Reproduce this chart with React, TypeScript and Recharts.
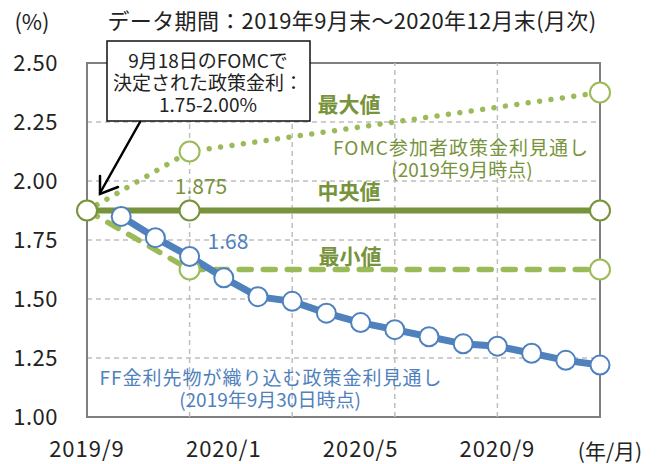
import { ComposedChart, Line, XAxis, YAxis, CartesianGrid, ReferenceLine, ReferenceArea } from "recharts"

const months = [
  "2019/9", "2019/10", "2019/11", "2019/12", "2020/1", "2020/2", "2020/3", "2020/4",
  "2020/5", "2020/6", "2020/7", "2020/8", "2020/9", "2020/10", "2020/11", "2020/12",
]

// FF金利先物が織り込む政策金利見通し（2019年9月30日時点）
const ffFutures = [null, 1.85, 1.76, 1.68, 1.59, 1.51, 1.49, 1.44, 1.4, 1.37, 1.34, 1.31, 1.3, 1.27, 1.24, 1.22]

// FOMC参加者政策金利見通し（2019年9月時点）
const fomcMedian = [1.875, null, null, 1.875, null, null, null, null, null, null, null, null, null, null, null, 1.875]
const fomcMax = [1.875, null, null, 2.125, null, null, null, null, null, null, null, null, null, null, null, 2.375]
const fomcMin = [1.875, null, null, 1.625, null, null, null, null, null, null, null, null, null, null, null, 1.625]

const xTickLabels = ["2019/9", "2020/1", "2020/5", "2020/9"]
const xGridMonths = ["2019/12", "2020/3", "2020/6", "2020/9"]
const yTicks = [1.0, 1.25, 1.5, 1.75, 2.0, 2.25, 2.5]

const data = months.map((m, i) => ({
  idx: i,
  month: m,
  ff: ffFutures[i],
  median: fomcMedian[i],
  max: fomcMax[i],
  min: fomcMin[i],
}))

const FONT = "'Noto Sans CJK JP', 'Noto Sans', sans-serif"
const DARK_GREEN = "#77933C"
const LIGHT_GREEN = "#9BBB59"
const BLUE = "#4F81BD"
const GRID = "#BFBFBF"

function marker(color: string, r: number, skipFirst = false) {
  return (props: any) => {
    const { cx, cy, index } = props
    if (cx == null || cy == null || (skipFirst && index === 0)) return <g key={`d-${index}`} />
    return <circle key={`d-${index}`} cx={cx} cy={cy} r={r} fill="#fff" stroke={color} strokeWidth={2} />
  }
}

export default function App() {
  return (
    <div style={{ position: "absolute", left: 0, top: 0, width: 657, height: 464, background: "#fff", fontFamily: FONT }}>
      <ComposedChart width={657} height={464} data={data} margin={{ top: 63, right: 57, bottom: 0, left: 0 }}>
        <CartesianGrid vertical={false} stroke={GRID} strokeDasharray="5 4" strokeWidth={1.5} />
        {xGridMonths.map((m) => (
          <ReferenceLine key={m} x={months.indexOf(m)} stroke={GRID} strokeDasharray="5 4" strokeWidth={1.5} />
        ))}
        <ReferenceArea x1={0} x2={15} y1={1} y2={2.5} fill="none" stroke="#7F7F7F" strokeWidth={2} />
        <XAxis
          dataKey="idx"
          type="number"
          domain={[0, 15]}
          ticks={xTickLabels.map((l) => months.indexOf(l))}
          tickFormatter={(v) => months[v]}
          axisLine={false}
          tickLine={false}
          tickSize={0}
          tickMargin={24}
          height={47}
          tick={{ fontSize: 22, fill: "#222", fontFamily: FONT, letterSpacing: 1 }}
        />
        <YAxis
          type="number"
          domain={[1, 2.5]}
          ticks={yTicks}
          tickFormatter={(v) => v.toFixed(2)}
          axisLine={false}
          tickLine={false}
          tickSize={0}
          tickMargin={29}
          width={87}
          tick={{ fontSize: 22, fill: "#222", fontFamily: FONT, letterSpacing: 0.5 }}
        />
        <Line
          dataKey="max"
          stroke={LIGHT_GREEN}
          strokeWidth={5.5}
          strokeDasharray="0.01 11.5"
          strokeLinecap="round"
          connectNulls
          dot={marker(LIGHT_GREEN, 10, true)}
          isAnimationActive={false}
        />
        <Line
          dataKey="min"
          stroke={LIGHT_GREEN}
          strokeWidth={5.5}
          strokeDasharray="12 12"
          strokeLinecap="round"
          connectNulls
          dot={marker(LIGHT_GREEN, 10, true)}
          isAnimationActive={false}
        />
        <Line
          dataKey="median"
          stroke={DARK_GREEN}
          strokeWidth={6}
          connectNulls
          dot={marker(DARK_GREEN, 10)}
          isAnimationActive={false}
        />
        <Line
          dataKey="ff"
          stroke={BLUE}
          strokeWidth={7}
          dot={marker(BLUE, 9.5)}
          isAnimationActive={false}
        />
      </ComposedChart>

      <svg width={657} height={464} style={{ position: "absolute", left: 0, top: 0, pointerEvents: "none" }} fontFamily={FONT}>
        <text x={352} y={19} textAnchor="middle" dominantBaseline="central" fontSize={22} letterSpacing={0.35} fill="#222">
          データ期間：2019年9月末～2020年12月末(月次)
        </text>
        <text x={32} y={20} textAnchor="middle" dominantBaseline="central" fontSize={22} fill="#222">(%)</text>
        <text x={610} y={450} textAnchor="middle" dominantBaseline="central" fontSize={21} fill="#222">(年/月)</text>

        <rect x={107} y={41} width={203} height={80} fill="#fff" stroke="#111" strokeWidth={1.5} />
        <text x={208} y={59} textAnchor="middle" dominantBaseline="central" fontSize={19} fill="#222">9月18日のFOMCで</text>
        <text x={208} y={81} textAnchor="middle" dominantBaseline="central" fontSize={19} fill="#222">決定された政策金利：</text>
        <text x={208} y={103} textAnchor="middle" dominantBaseline="central" fontSize={19} fill="#222">1.75-2.00%</text>
        <g stroke="#000" strokeWidth={2.5} strokeLinecap="round" fill="none">
          <line x1={140} y1={122} x2={100} y2={193} />
          <polyline points="100,176 100,194 118,187" />
        </g>

        <text x={349} y={103} textAnchor="middle" dominantBaseline="central" fontSize={21} fontWeight="bold" fill={DARK_GREEN}>最大値</text>
        <text x={461} y={146} textAnchor="middle" dominantBaseline="central" fontSize={19} letterSpacing={1} fill={DARK_GREEN}>FOMC参加者政策金利見通し</text>
        <text x={462} y={168} textAnchor="middle" dominantBaseline="central" fontSize={19} fill={DARK_GREEN}>(2019年9月時点)</text>
        <text x={349} y={190} textAnchor="middle" dominantBaseline="central" fontSize={21} fontWeight="bold" fill={DARK_GREEN}>中央値</text>
        <text x={201} y={185} textAnchor="middle" dominantBaseline="central" fontSize={21} fill={DARK_GREEN}>1.875</text>
        <text x={350} y={255} textAnchor="middle" dominantBaseline="central" fontSize={21} fontWeight="bold" fill={DARK_GREEN}>最小値</text>
        <text x={228} y={240} textAnchor="middle" dominantBaseline="central" fontSize={21} fill={BLUE}>1.68</text>
        <text x={271} y={376} textAnchor="middle" dominantBaseline="central" fontSize={19} letterSpacing={1} fill={BLUE}>FF金利先物が織り込む政策金利見通し</text>
        <text x={270} y={398} textAnchor="middle" dominantBaseline="central" fontSize={19} fill={BLUE}>(2019年9月30日時点)</text>
      </svg>
    </div>
  )
}
